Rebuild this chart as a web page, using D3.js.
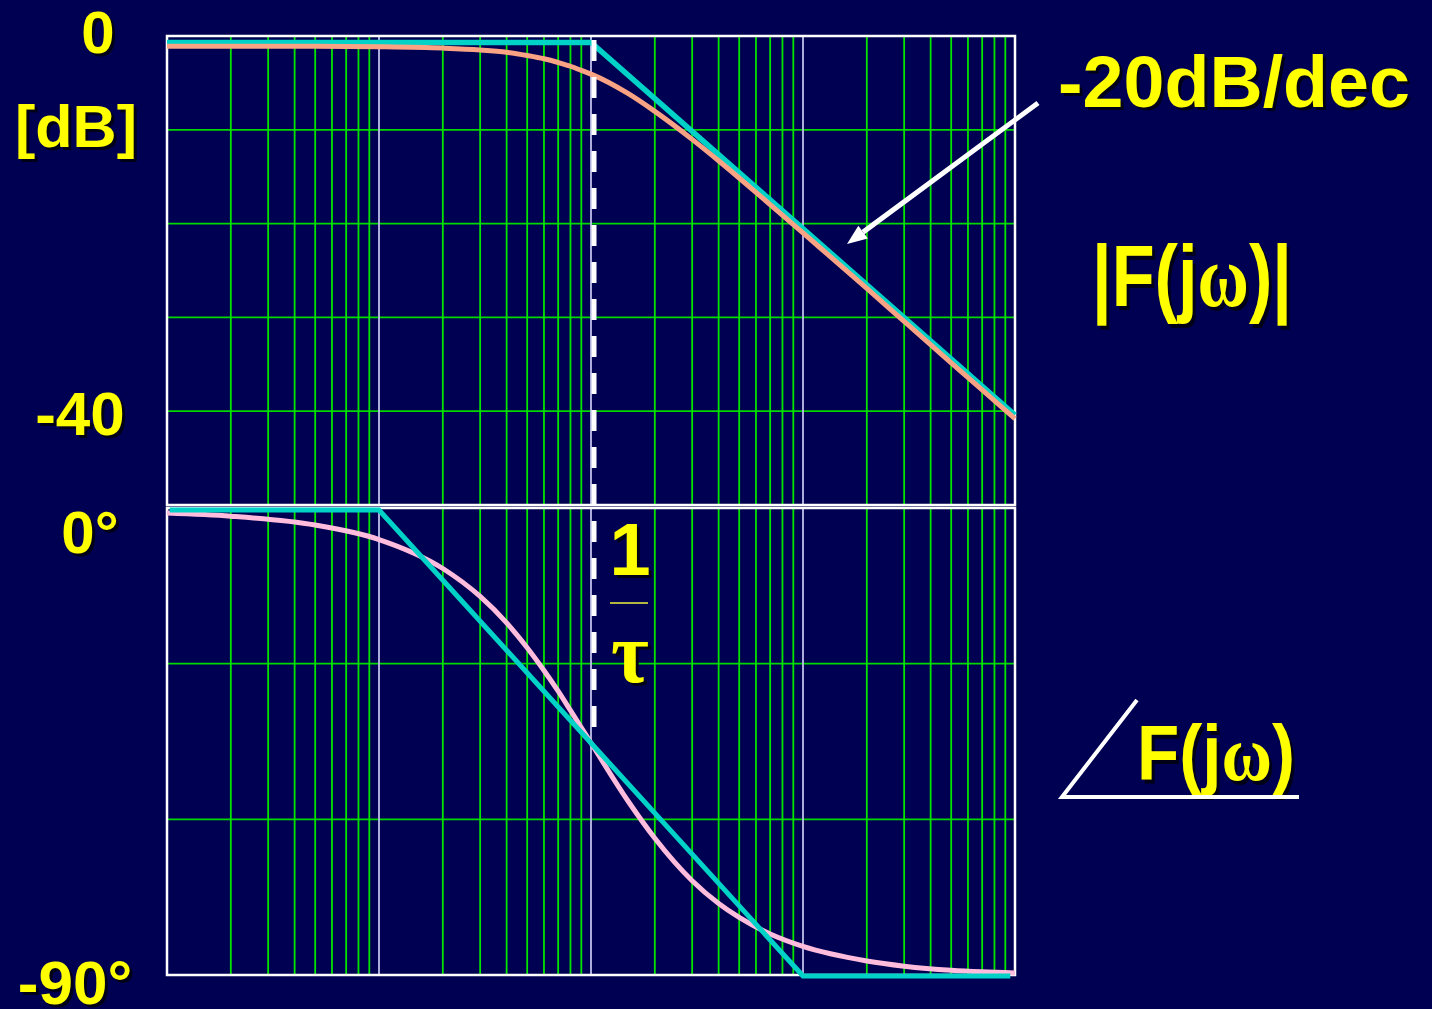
<!DOCTYPE html>
<html><head><meta charset="utf-8">
<script src="https://cdn.jsdelivr.net/npm/d3@7"></script>
<style>html,body{margin:0;padding:0;background:#000052;}svg{display:block;}</style>
</head><body>
<svg id="c" width="1432" height="1009"></svg>
<script>
// ---- data ----
const freqs      = [0.01,0.02,0.05,0.1,0.2,0.3,0.4,0.5,0.6,0.7,0.8,0.9,1,1.5,2,3,4,5,7,10,20,30,50,70,100];
const magnitude  = [-0.4,-0.4,-0.4,-0.45,-0.6,-0.8,-1.05,-1.4,-1.75,-2.15,-2.55,-3.0,-3.4,-5.5,-7.4,-10.4,-12.7,-14.55,-17.4,-20.45,-26.4,-29.95,-34.4,-37.3,-40.4];
const phase      = [-0.6,-1.2,-2.9,-5.7,-11.3,-16.7,-21.8,-26.6,-31.0,-35.0,-38.7,-42.0,-45,-56.3,-63.4,-71.6,-76.0,-78.7,-81.9,-84.3,-87.1,-88.1,-88.9,-89.2,-89.4];
const magAsymF   = [0.01,1,100];
const magAsymV   = [0,0,-40];
const phAsymF    = [0.0103,0.1,10,95];
const phAsymV    = [0,0,-90,-90];
const decades    = [0.01,0.1,1,10,100];
const minorMults = [2,3,4,5,6,7,8,9];
const corner     = 1;

const svg = d3.select("#c");
svg.append("rect").attr("width",1432).attr("height",1009).attr("fill","#000052");

const x = d3.scaleLog().domain([0.01,100]).range([167,1015]);
const yMag = d3.scaleLinear().domain([0,-40]).range([42.5,415]);
const yPh  = d3.scaleLinear().domain([0,-90]).range([510,976]);
const panels = [{top:36,bottom:505,rows:5},{top:508,bottom:975,rows:3}];

// grids
panels.forEach(p=>{
  const g = svg.append("g");
  const gy = d3.scaleLinear().domain([0,p.rows]).range([p.top,p.bottom]);
  d3.range(1,p.rows).forEach(i=>{
    g.append("line").attr("x1",x.range()[0]).attr("x2",x.range()[1])
     .attr("y1",gy(i)).attr("y2",gy(i)).attr("stroke","#00d800").attr("stroke-width",1.8);
  });
  decades.slice(0,-1).forEach(d=>{
    minorMults.forEach(m=>{
      const xv = x(d*m);
      g.append("line").attr("x1",xv).attr("x2",xv).attr("y1",p.top).attr("y2",p.bottom)
       .attr("stroke","#00e400").attr("stroke-width",1.8);
    });
  });
  decades.slice(1,-1).forEach(d=>{
    g.append("line").attr("x1",x(d)).attr("x2",x(d)).attr("y1",p.top).attr("y2",p.bottom)
     .attr("stroke","#c0c0ec").attr("stroke-width",1.8);
  });
  g.append("rect").attr("x",x.range()[0]).attr("y",p.top)
   .attr("width",x.range()[1]-x.range()[0]).attr("height",p.bottom-p.top)
   .attr("fill","none").attr("stroke","#ffffff").attr("stroke-width",2.5);
});

// curves
const magLine = d3.line().x(d=>x(d[0])).y(d=>yMag(d[1])).curve(d3.curveMonotoneX);
const phLine  = d3.line().x(d=>x(d[0])).y(d=>yPh(d[1])).curve(d3.curveMonotoneX);
const lin = (ys)=>d3.line().x(d=>x(d[0])).y(d=>ys(d[1]));

svg.append("path").datum(d3.zip(magAsymF,magAsymV)).attr("d",lin(yMag))
  .attr("fill","none").attr("stroke","#00d2c8").attr("stroke-width",5.5);
svg.append("path").datum(d3.zip(freqs,magnitude)).attr("d",magLine)
  .attr("fill","none").attr("stroke","#f9a384").attr("stroke-width",5);

svg.append("path").datum(d3.zip(freqs,phase)).attr("d",phLine)
  .attr("fill","none").attr("stroke","#ffbcdc").attr("stroke-width",5);
svg.append("path").datum(d3.zip(phAsymF,phAsymV)).attr("d",lin(yPh))
  .attr("fill","none").attr("stroke","#00d2c8").attr("stroke-width",5);

// dashed corner line
svg.append("line").attr("x1",x(corner)+3).attr("x2",x(corner)+3).attr("y1",40).attr("y2",736)
  .attr("stroke","#ffffff").attr("stroke-width",5).attr("stroke-dasharray","21,16");

// text helper with shadow copy
function label(txt, cx, by, size, opts={}){
  const sy = opts.sy || 1;
  const g = svg.append("g").attr("transform",`translate(${cx},${by}) scale(1,${sy})`);
  [["#000018",3,3],["#ffff00",0,0]].forEach(([col,dx,dy])=>{
    const t = g.append("text").attr("x",dx).attr("y",dy).attr("text-anchor",opts.anchor||"middle")
      .attr("font-family","Liberation Sans, Arial, sans-serif").attr("font-weight","bold")
      .attr("font-size",size).attr("fill",col);
    if (opts.tl) t.attr("textLength",opts.tl).attr("lengthAdjust","spacingAndGlyphs");
    (Array.isArray(txt)?txt:[[txt]]).forEach(([s,serif])=>{
      const ts = t.append("tspan").text(s);
      if (serif) ts.attr("font-family","Liberation Serif, Times New Roman, serif");
    });
  });
}
label("0", 98, 53, 60);
label("[dB]", 76, 147, 60, {tl:122});
label("-40", 80, 435, 62);
label("0°", 90, 553, 60);
label("-90°", 75, 1004, 62);
label("-20dB/dec", 1234, 107, 72, {tl:352});
label([["|F(j"],["ω",true],[")|"]], 1192, 306, 72, {sy:1.22, tl:200});
label([["F(j"],["ω",true],[")"]], 1216, 780, 66, {sy:1.18, tl:158});
label("1", 630, 575, 74);
label([["τ",true]], 630, 682, 82, {sy:1.05});
svg.append("line").attr("x1",610).attr("x2",648).attr("y1",603).attr("y2",603)
  .attr("stroke","#b4b440").attr("stroke-width",2);

// angle symbol
svg.append("path").attr("d","M1137,700 L1062,797 L1299,797")
  .attr("fill","none").attr("stroke","#ffffff").attr("stroke-width",4);

// arrow
const ax1=1038, ay1=103, ax2=847, ay2=244;
const ang = Math.atan2(ay2-ay1, ax2-ax1);
const hl=20, hw=8;
const bx = ax2 - hl*Math.cos(ang), by = ay2 - hl*Math.sin(ang);
svg.append("line").attr("x1",ax1).attr("y1",ay1).attr("x2",bx).attr("y2",by)
  .attr("stroke","#ffffff").attr("stroke-width",5);
svg.append("path").attr("d",`M${ax2},${ay2} L${bx - hw*Math.sin(ang)},${by + hw*Math.cos(ang)} L${bx + hw*Math.sin(ang)},${by - hw*Math.cos(ang)} Z`)
  .attr("fill","#ffffff");
</script>
</body></html>
